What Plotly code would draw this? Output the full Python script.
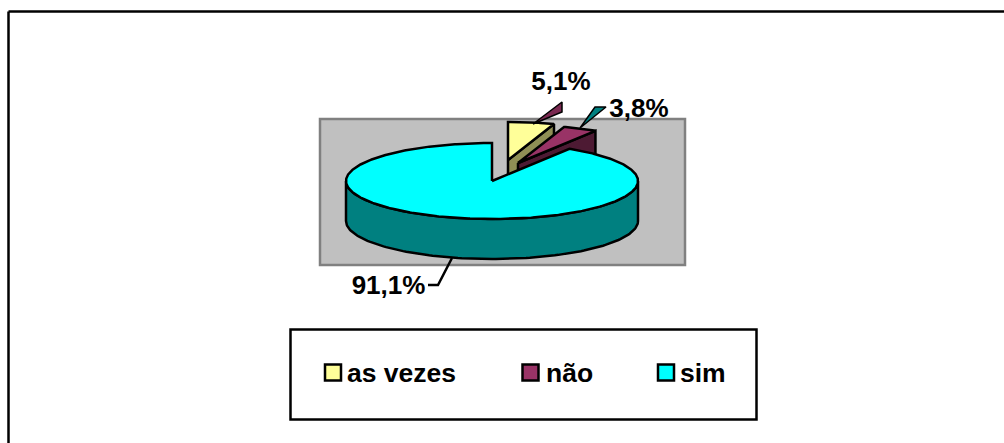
import numpy as np
import plotly.graph_objects as go

# Data
categories = ["as vezes", "não", "sim"]
values = [5.1, 3.8, 91.1]
value_labels = ["5,1%", "3,8%", "91,1%"]

# Colours
top_colors = ["#FFFF99", "#993366", "#00FFFF"]
side_colors = ["#8F8F55", "#4D1A33", "#008080"]
leader_fill = ["#7A2951", "#008080", None]

# Pie projection (page pixels)
W, H = 1004, 443
CX, CY, RX, RY, DEPTH = 492, 181, 146, 38, 40
EXPLODE = [(16, -21), (26, -18), (0, 0)]
LW = 2.5

fig = go.Figure()


def ellipse(a, ox=0, oy=0, dz=0):
    a = np.radians(a)
    return CX + ox + RX * np.sin(a), CY + oy + dz - RY * np.cos(a)


def poly(x, y, fill):
    fig.add_trace(go.Scatter(
        x=list(x), y=list(y), mode="lines", fill="toself", fillcolor=fill,
        line=dict(color="#000000", width=LW), hoverinfo="skip", showlegend=False))


edges = np.cumsum([0] + values) / sum(values) * 360
for i, (v, off) in enumerate(zip(values, EXPLODE)):
    a0, a1 = edges[i], edges[i + 1]
    ox, oy = off
    apex = (CX + ox, CY + oy)
    if i < 2:
        # visible radial wall
        ex, ey = ellipse(a1, ox, oy)
        poly([apex[0], ex, ex, apex[0], apex[0]],
             [apex[1], ey, ey + DEPTH, apex[1] + DEPTH, apex[1]], side_colors[i])
    else:
        # front outer wall
        t = np.linspace(90, 270, 121)
        x0, y0 = ellipse(t)
        x1, y1 = ellipse(t[::-1], dz=DEPTH)
        poly(np.r_[x0, x1, x0[0]], np.r_[y0, y1, y0[0]], side_colors[i])
    t = np.linspace(a0, a1, max(8, int((a1 - a0) * 1.5)))
    ax, ay = ellipse(t, ox, oy)
    poly(np.r_[apex[0], ax, apex[0]], np.r_[apex[1], ay, apex[1]], top_colors[i])

# Leader lines
LEADERS = [
    ([533, 562, 562, 533], [124, 102, 112, 124]),
    ([580, 595, 606, 580], [128, 107, 107, 128]),
    ([452, 438, 428], [258, 285, 285]),
]
for (lx, ly), fc in zip(LEADERS, leader_fill):
    fig.add_trace(go.Scatter(
        x=lx, y=ly, mode="lines", fill="toself" if fc else "none", fillcolor=fc,
        line=dict(color="#000000", width=1.5 if fc else LW),
        hoverinfo="skip", showlegend=False))

# Value labels
LABEL_X = [561, 639, 388.5]
LABEL_Y = [83.5, 110, 287.5]
LABEL_FONT = dict(family="Liberation Sans", size=26, color="#000000", weight="bold")
LEGEND_FONT = dict(family="Liberation Sans", size=26.5, color="#000000", weight="bold")
fig.add_trace(go.Scatter(
    x=LABEL_X, y=LABEL_Y, mode="text", text=value_labels,
    textposition="middle center", textfont=LABEL_FONT,
    hoverinfo="skip", showlegend=False, cliponaxis=False))

# Legend
LEG_X = [333, 530.5, 666]
LEG_TEXT_X = [347, 546, 680]
LEG_Y = 372.5
LEG_TEXT_Y = 375
fig.add_trace(go.Scatter(
    x=LEG_X, y=[LEG_Y] * 3, mode="markers",
    marker=dict(symbol="square", size=16, color=top_colors,
                line=dict(color="#000000", width=2.5)),
    hoverinfo="skip", showlegend=False, cliponaxis=False))
fig.add_trace(go.Scatter(
    x=LEG_TEXT_X, y=[LEG_TEXT_Y] * 3, mode="text",
    text=categories, textposition="middle right", textfont=LEGEND_FONT,
    hoverinfo="skip", showlegend=False, cliponaxis=False))

fig.update_layout(
    width=W, height=H, autosize=False,
    margin=dict(l=0, r=0, t=0, b=0),
    paper_bgcolor="#FFFFFF", plot_bgcolor="#FFFFFF",
    xaxis=dict(range=[0, W], visible=False, fixedrange=True),
    yaxis=dict(range=[H, 0], visible=False, fixedrange=True),
    shapes=[
        dict(type="rect", x0=320, x1=685, y0=119, y1=265, layer="below",
             fillcolor="#C0C0C0", line=dict(color="#808080", width=2.5)),
        dict(type="rect", x0=290.5, x1=756.5, y0=329.5, y1=419.5, layer="below",
             fillcolor="#FFFFFF", line=dict(color="#000000", width=2.5)),
        dict(type="line", x0=8.5, x1=8.5, y0=11.5, y1=H, line=dict(color="#000000", width=2.5)),
        dict(type="line", x0=8.5, x1=W, y0=11.5, y1=11.5, line=dict(color="#000000", width=2.5)),
    ],
)

fig.write_html("out.html", config=dict(displayModeBar=False),
               post_script="document.body.style.margin='0';document.body.style.overflow='hidden';")
